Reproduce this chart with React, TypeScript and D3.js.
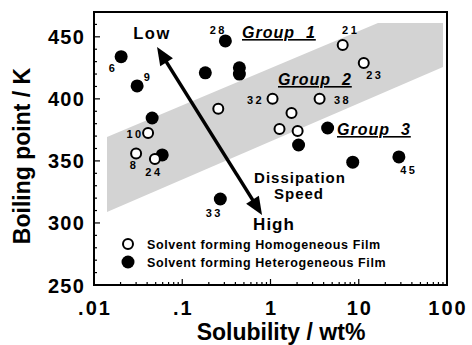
import * as d3 from "d3";
import { useEffect, useRef } from "react";

// solvents forming homogeneous film (open circles)
const solubilityHomo = [0.030, 0.041, 0.049, 0.256, 1.055, 1.265, 1.73, 2.03, 3.6, 6.58, 11.4];
const boilingHomo = [356, 372.5, 351.6, 392, 400, 375.7, 388.6, 374.1, 400, 443.4, 428.9];
const labelsHomo = ["8", "10", "24", "", "32", "", "", "", "38", "21", "23"];

// solvents forming heterogeneous film (filled circles)
const solubilityHetero = [0.0203, 0.0308, 0.0456, 0.0593, 0.1825, 0.308, 0.444, 0.444, 0.27, 2.08, 4.44, 8.55, 28.5];
const boilingHetero = [434, 410.4, 384.6, 354.8, 421, 446.7, 425, 420, 319.3, 362.8, 376.5, 349, 353.2];
const labelsHetero = ["6", "9", "", "", "", "28", "", "", "33", "", "", "", "45"];

// shaded region (group 2 band)
const bandSolubility = [0.01404, 16.5, 90.1, 90.1, 0.01404];
const bandBoiling = [369.3, 461.1, 461.1, 425.7, 308.8];

// dissipation speed arrow ends
const arrowSolubility = [0.0518, 0.802];
const arrowBoiling = [441.8, 306.4];

const xTicks = [0.01, 0.1, 1, 10, 100];
const xTickLabels = [".01", ".1", "1", "10", "100"];
const yTicks = [250, 300, 350, 400, 450];

// label offsets from the point centre (px)
const labelOffsets = {
    "8": [-3, 16], "10": [-14, 5], "24": [-2, 17], "32": [-18, 5], "38": [22, 5],
    "21": [7, -11], "23": [10, 16], "6": [-9, 15], "9": [10, -5], "28": [-8, -7],
    "33": [-7, 18], "45": [9, 17]
};

const FONT = "'Liberation Sans', Arial, Helvetica, sans-serif";

export default function App() {
    const ref = useRef(null);

    useEffect(() => {
        const width = 472, height = 345;
        const left = 94, right = 447, top = 12, bottom = 285;

        const svg = d3.select(ref.current);
        svg.selectAll("*").remove();
        svg.attr("width", width).attr("height", height);

        const x = d3.scaleLog().domain([0.01, 100]).range([left, right]);
        const y = d3.scaleLinear().domain([250, 470]).range([bottom, top]);

        svg.append("rect").attr("width", width).attr("height", height).attr("fill", "white");

        // band
        const band = bandSolubility.map((s, i) => [x(s), y(bandBoiling[i])]);
        svg.append("path")
            .attr("d", d3.line()(band) + "Z")
            .attr("fill", "#d3d3d3");

        // ticks
        const yMinor = d3.range(250, 471, 10);
        svg.selectAll("line.ytick")
            .data(yMinor)
            .enter()
            .append("line")
            .attr("x1", left)
            .attr("x2", d => left + (d % 50 === 0 ? 6 : 3))
            .attr("y1", d => y(d))
            .attr("y2", d => y(d))
            .attr("stroke", "black")
            .attr("stroke-width", 1.2);

        const xMinor = [];
        [0.01, 0.1, 1, 10].forEach(dec => {
            for (let k = 1; k <= 9; k++) xMinor.push(dec * k);
        });
        xMinor.push(100);
        svg.selectAll("line.xtick")
            .data(xMinor)
            .enter()
            .append("line")
            .attr("x1", d => x(d))
            .attr("x2", d => x(d))
            .attr("y1", bottom)
            .attr("y2", d => bottom - (xTicks.some(t => Math.abs(t - d) < 1e-9) ? 6 : 3))
            .attr("stroke", "black")
            .attr("stroke-width", 1.2);

        // frame
        svg.append("rect")
            .attr("x", left).attr("y", top)
            .attr("width", right - left).attr("height", bottom - top)
            .attr("fill", "none")
            .attr("stroke", "black")
            .attr("stroke-width", 2);

        // tick labels
        svg.selectAll("text.ylab")
            .data(yTicks)
            .enter()
            .append("text")
            .attr("x", 85)
            .attr("y", d => y(d) + 7.5)
            .attr("text-anchor", "end")
            .attr("font-family", FONT)
            .attr("font-weight", "bold")
            .attr("font-size", 20)
            .attr("letter-spacing", 1.2)
            .text(d => d);

        svg.selectAll("text.xlab")
            .data(xTicks)
            .enter()
            .append("text")
            .attr("x", d => x(d) + 1)
            .attr("y", 315)
            .attr("text-anchor", "middle")
            .attr("font-family", FONT)
            .attr("font-weight", "bold")
            .attr("font-size", 20)
            .attr("letter-spacing", 2)
            .text((d, i) => xTickLabels[i]);

        // axis titles
        svg.append("text")
            .attr("x", 281).attr("y", 340)
            .attr("text-anchor", "middle")
            .attr("font-family", FONT).attr("font-weight", "bold").attr("font-size", 23)
            .text("Solubility / wt%");
        svg.append("text")
            .attr("transform", "translate(30,156) rotate(-90)")
            .attr("text-anchor", "middle")
            .attr("font-family", FONT).attr("font-weight", "bold").attr("font-size", 23)
            .text("Boiling point / K");

        // arrow
        const [ax0, ax1] = arrowSolubility.map(s => x(s));
        const [ay0, ay1] = arrowBoiling.map(b => y(b));
        const len = Math.hypot(ax1 - ax0, ay1 - ay0);
        const ux = (ax1 - ax0) / len, uy = (ay1 - ay0) / len;
        const headLen = 18, headHalf = 7.5;
        svg.append("line")
            .attr("x1", ax0 + ux * (headLen - 2)).attr("y1", ay0 + uy * (headLen - 2))
            .attr("x2", ax1 - ux * (headLen - 2)).attr("y2", ay1 - uy * (headLen - 2))
            .attr("stroke", "black").attr("stroke-width", 3.5);
        const head = (tx, ty, dx, dy) => {
            const bx = tx + dx * headLen, by = ty + dy * headLen;
            return [[tx, ty], [bx - dy * headHalf, by + dx * headHalf], [bx + dy * headHalf, by - dx * headHalf]];
        };
        [head(ax0, ay0, ux, uy), head(ax1, ay1, -ux, -uy)].forEach(h => {
            svg.append("path").attr("d", d3.line()(h) + "Z").attr("fill", "black");
        });

        // annotations
        const annotations = [
            { t: "Low", x: 152, y: 39, size: 16.5, ls: 1.5 },
            { t: "Dissipation", x: 300, y: 183, size: 15, ls: 1 },
            { t: "Speed", x: 299, y: 199, size: 15, ls: 1 },
            { t: "High", x: 274, y: 230, size: 17, ls: 1 }
        ];
        annotations.forEach(a => {
            svg.append("text")
                .attr("x", a.x).attr("y", a.y)
                .attr("text-anchor", "middle")
                .attr("font-family", FONT).attr("font-weight", "bold")
                .attr("font-size", a.size).attr("letter-spacing", a.ls)
                .text(a.t);
        });

        const groups = [
            { t: "Group\u00a0\u00a01", x: 242, y: 38 },
            { t: "Group\u00a0\u00a02", x: 278, y: 85 },
            { t: "Group\u00a0\u00a03", x: 337, y: 135 }
        ];
        groups.forEach(g => {
            svg.append("text")
                .attr("x", g.x).attr("y", g.y)
                .attr("font-family", FONT).attr("font-weight", "bold").attr("font-style", "italic")
                .attr("font-size", 16).attr("letter-spacing", 1)
                .attr("text-decoration", "underline")
                .text(g.t);
        });

        // points
        const hetero = solubilityHetero.map((s, i) => ({ s, b: boilingHetero[i], label: labelsHetero[i] }));
        const homo = solubilityHomo.map((s, i) => ({ s, b: boilingHomo[i], label: labelsHomo[i] }));

        svg.selectAll("circle.hetero")
            .data(hetero)
            .enter()
            .append("circle")
            .attr("cx", d => x(d.s))
            .attr("cy", d => y(d.b))
            .attr("r", 6.5)
            .attr("fill", "black");

        svg.selectAll("circle.homo")
            .data(homo)
            .enter()
            .append("circle")
            .attr("cx", d => x(d.s))
            .attr("cy", d => y(d.b))
            .attr("r", 5)
            .attr("fill", "white")
            .attr("stroke", "black")
            .attr("stroke-width", 2);

        svg.selectAll("text.plabel")
            .data(hetero.concat(homo).filter(d => d.label))
            .enter()
            .append("text")
            .attr("x", d => x(d.s) + labelOffsets[d.label][0] + 1)
            .attr("y", d => y(d.b) + labelOffsets[d.label][1])
            .attr("text-anchor", "middle")
            .attr("font-family", FONT).attr("font-weight", "bold")
            .attr("font-size", 11).attr("letter-spacing", 2.5)
            .text(d => d.label);

        // legend
        const legend = [
            { t: "Solvent forming Homogeneous Film", open: true },
            { t: "Solvent forming Heterogeneous Film", open: false }
        ];
        legend.forEach((l, i) => {
            const cy = 244 + i * 18;
            svg.append("circle")
                .attr("cx", 128).attr("cy", cy)
                .attr("r", l.open ? 5 : 6.5)
                .attr("fill", l.open ? "white" : "black")
                .attr("stroke", l.open ? "black" : "none")
                .attr("stroke-width", 2);
            svg.append("text")
                .attr("x", 147).attr("y", cy + 5)
                .attr("font-family", FONT).attr("font-weight", "bold")
                .attr("font-size", 12.5).attr("letter-spacing", 0.6)
                .text(l.t);
        });
    }, []);

    return <svg ref={ref} style={{ position: "absolute", left: 0, top: 0, display: "block" }}></svg>;
}
